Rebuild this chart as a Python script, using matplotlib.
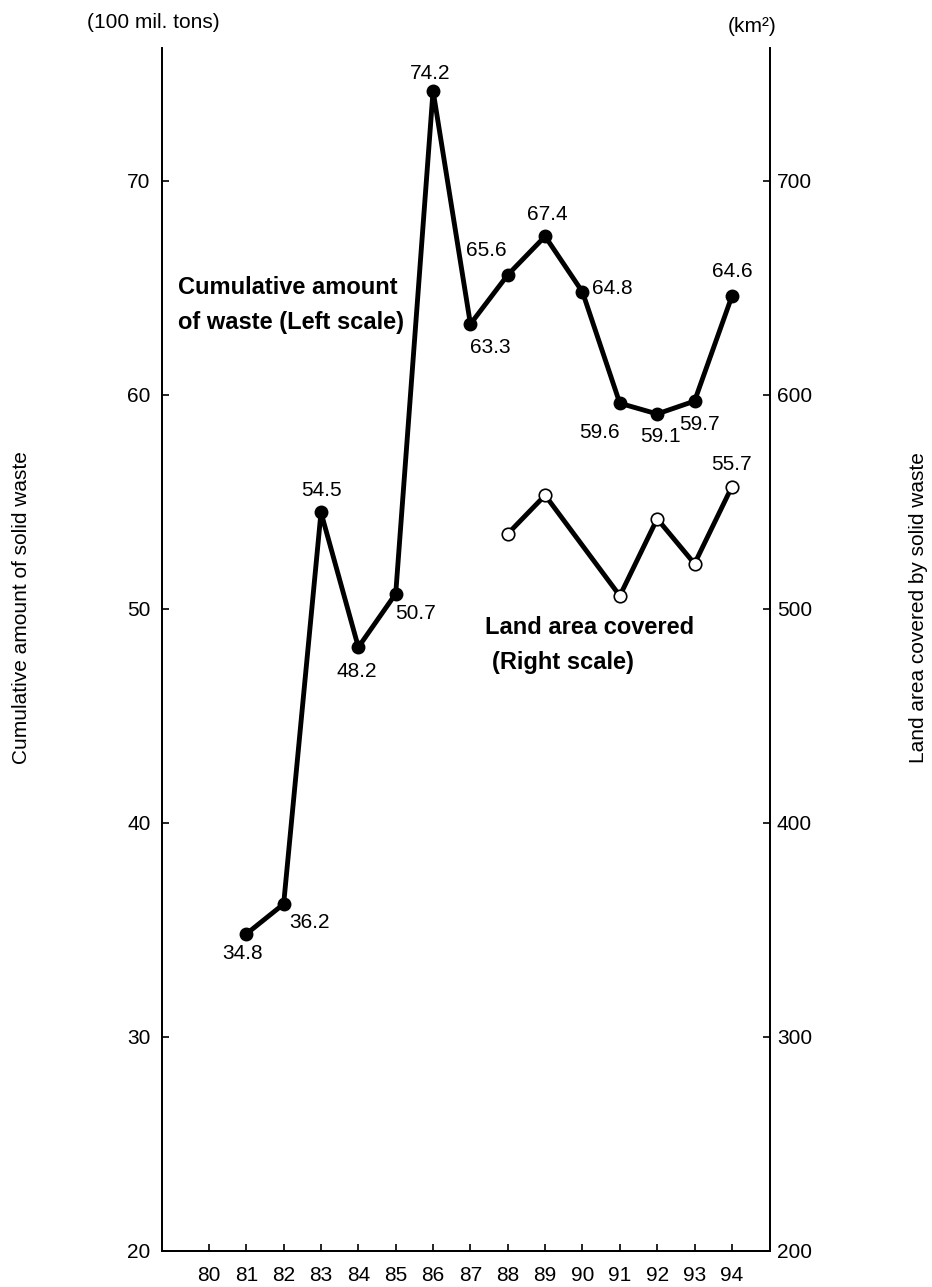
import matplotlib
matplotlib.use("Agg")
import matplotlib.pyplot as plt

plt.rcParams['font.family'] = ['Liberation Sans', 'DejaVu Sans']

# ---- data ----
years = [81, 82, 83, 84, 85, 86, 87, 88, 89, 90, 91, 92, 93, 94]
waste = [34.8, 36.2, 54.5, 48.2, 50.7, 74.2, 63.3, 65.6, 67.4, 64.8, 59.6, 59.1, 59.7, 64.6]
land_years = [88, 89, 91, 92, 93, 94]
land = [535, 553, 506, 542, 521, 557]
x_ticks = list(range(80, 95))
left_ticks = [20, 30, 40, 50, 60, 70]
right_ticks = [200, 300, 400, 500, 600, 700]

W, H = 932, 1287
DPI = 100
FS = 15
fig = plt.figure(figsize=(W / DPI, H / DPI), dpi=DPI)

def fx(px):
    return px / W

def fy(py):
    return 1 - py / H

ax = fig.add_axes([fx(161.5), fy(1250.7), fx(770) - fx(161.5), fy(48) - fy(1250.7)])
ax2 = ax.twinx()

ax.set_xlim(78.73, 95.02)
ax.set_ylim(20, 76.2)
ax2.set_ylim(200, 762)

ax.plot(years, waste, color='black', lw=3.5, marker='o', ms=9,
        markerfacecolor='black', markeredgecolor='black', zorder=3)
ax2.plot(land_years, land, color='black', lw=3.5, marker='o', ms=9,
         markerfacecolor='white', markeredgecolor='black', markeredgewidth=1.2, zorder=3)

for a in (ax, ax2):
    a.spines['top'].set_visible(False)
    for s in a.spines.values():
        s.set_linewidth(1.3)

ax.set_xticks(x_ticks)
ax.set_xticklabels([str(t) for t in x_ticks])
ax.set_yticks(left_ticks)
ax.set_yticklabels([str(t) for t in left_ticks])
ax2.set_yticks(right_ticks)
ax2.set_yticklabels([str(t) for t in right_ticks])

ax.tick_params(axis='x', direction='in', length=5, width=1.2, pad=11, labelsize=FS)
ax.tick_params(axis='y', direction='in', length=5, width=1.2, pad=8, labelsize=FS)
ax2.tick_params(axis='y', direction='in', length=5, width=1.2, pad=5, labelsize=FS)

# value labels: offsets in pixels (dx right, dy down)
offs = {
    81: (-4, 20), 82: (26, 18), 83: (0, -22), 84: (-2, 24), 85: (20, 20),
    86: (-3, -17), 87: (20, 23), 88: (-21, -24), 89: (2, -22), 90: (30, -3),
    91: (-20, 29), 92: (3, 23), 93: (5, 23), 94: (0, -25),
}
k = 72 / DPI
for x, v in zip(years, waste):
    dx, dy = offs[x]
    ax.annotate(f"{v:.1f}", (x, v), xytext=(dx * k, -dy * k), textcoords='offset points',
                ha='center', va='center', fontsize=FS, zorder=5)

ax2.annotate(f"{land[-1] / 10:.1f}", (land_years[-1], land[-1]), xytext=(0, 22 * k),
             textcoords='offset points', ha='center', va='center', fontsize=FS)

# series labels
fig.text(fx(178), fy(288), "Cumulative amount", fontsize=17, fontweight='bold', ha='left', va='center')
fig.text(fx(178), fy(323), "of waste (Left scale)", fontsize=17, fontweight='bold', ha='left', va='center')
fig.text(fx(485), fy(628), "Land area covered", fontsize=17, fontweight='bold', ha='left', va='center')
fig.text(fx(492), fy(663), "(Right scale)", fontsize=17, fontweight='bold', ha='left', va='center')

# units
fig.text(fx(153), fy(22), "(100 mil. tons)", fontsize=FS, ha='center', va='center')
fig.text(fx(752), fy(26), "(km²)", fontsize=FS, ha='center', va='center')

# axis titles
fig.text(fx(22), fy(608), "Cumulative amount of solid waste", fontsize=FS, rotation=90,
         ha='center', va='center')
fig.text(fx(918), fy(608), "Land area covered by solid waste", fontsize=FS, rotation=90,
         ha='center', va='center')

fig.savefig("out.png", dpi=DPI)
